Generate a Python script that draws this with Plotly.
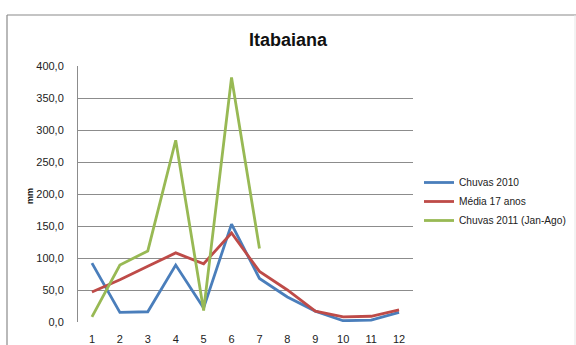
import plotly.graph_objects as go

# Monthly rainfall (mm) for Itabaiana
meses = [1, 2, 3, 4, 5, 6, 7, 8, 9, 10, 11, 12]
chuvas_2010 = [92, 15, 16, 89, 22, 153, 68, 39, 17, 2, 3, 15]
media_17_anos = [47, 66, 87, 108, 91, 139, 79, 50, 17, 8, 9, 19]
meses_2011 = [1, 2, 3, 4, 5, 6, 7]
chuvas_2011 = [8, 89, 111, 284, 18, 382, 115]

y_ticks = [0, 50, 100, 150, 200, 250, 300, 350, 400]
y_tick_text = ["0,0", "50,0", "100,0", "150,0", "200,0", "250,0", "300,0", "350,0", "400,0"]

W, H = 576, 345
L, R, T, B = 78, 413, 66, 322  # plot area in pixels

font_family = "Liberation Sans, Arial, sans-serif"

fig = go.Figure()
fig.add_trace(go.Scatter(x=meses, y=chuvas_2010, mode="lines", name="Chuvas 2010",
                         line=dict(color="#4A7EBB", width=2.8)))
fig.add_trace(go.Scatter(x=meses, y=media_17_anos, mode="lines", name="Média 17 anos",
                         line=dict(color="#BE4B48", width=2.8)))
fig.add_trace(go.Scatter(x=meses_2011, y=chuvas_2011, mode="lines", name="Chuvas 2011 (Jan-Ago)",
                         line=dict(color="#98B954", width=2.8)))

def px_x(px):
    return (px - L) / (R - L)

def px_y(py):
    return (B - py) / (B - T)

# outer chart frame
shapes = [
    dict(type="line", xref="paper", yref="paper", x0=px_x(7), x1=px_x(7), y0=px_y(15), y1=px_y(346),
         line=dict(color="#8a8a8a", width=1.2)),
    dict(type="line", xref="paper", yref="paper", x0=px_x(7), x1=px_x(577), y0=px_y(15), y1=px_y(15),
         line=dict(color="#8a8a8a", width=1.2)),
    dict(type="line", xref="paper", yref="paper", x0=px_x(575), x1=px_x(575), y0=px_y(15), y1=px_y(346),
         line=dict(color="#e6e6e6", width=1)),
]

fig.update_layout(
    width=W, height=H,
    margin=dict(l=L, r=W - R, t=T, b=H - B, pad=0, autoexpand=False),
    paper_bgcolor="white", plot_bgcolor="white",
    font=dict(family=font_family, color="#222222", size=10),
    title=dict(text="<b>Itabaiana</b>", x=0.5, xref="container", xanchor="center",
               y=1 - 40 / H, yanchor="middle", font=dict(size=18, color="#111111")),
    showlegend=True,
    legend=dict(x=px_x(419), y=px_y(168), xanchor="left", yanchor="top",
                font=dict(size=10.2, color="#222222"), bgcolor="rgba(0,0,0,0)",
                tracegroupgap=0),
    shapes=shapes,
    annotations=[dict(text="<b>mm</b>", xref="paper", yref="paper", x=px_x(30), y=px_y(196),
                      textangle=-90, showarrow=False, font=dict(size=9, color="#111111"),
                      xanchor="center", yanchor="middle")],
)

fig.update_xaxes(range=[0.5, 12.5], tickmode="array", tickvals=meses, ticktext=[str(m) for m in meses],
                 showgrid=False, zeroline=False, showline=False, ticks="",
                 ticklabelstandoff=9, automargin=False,
                 tickfont=dict(size=11, color="#222222"), fixedrange=True)
fig.update_yaxes(range=[0, 400], tickmode="array", tickvals=y_ticks, ticktext=y_tick_text,
                 showgrid=True, gridcolor="#8c8c8c", gridwidth=1, zeroline=False,
                 showline=True, linecolor="#8c8c8c", linewidth=1, ticks="",
                 ticklabelstandoff=11, automargin=False,
                 tickfont=dict(size=11, color="#222222"), fixedrange=True)

fig.write_html("out.html")
